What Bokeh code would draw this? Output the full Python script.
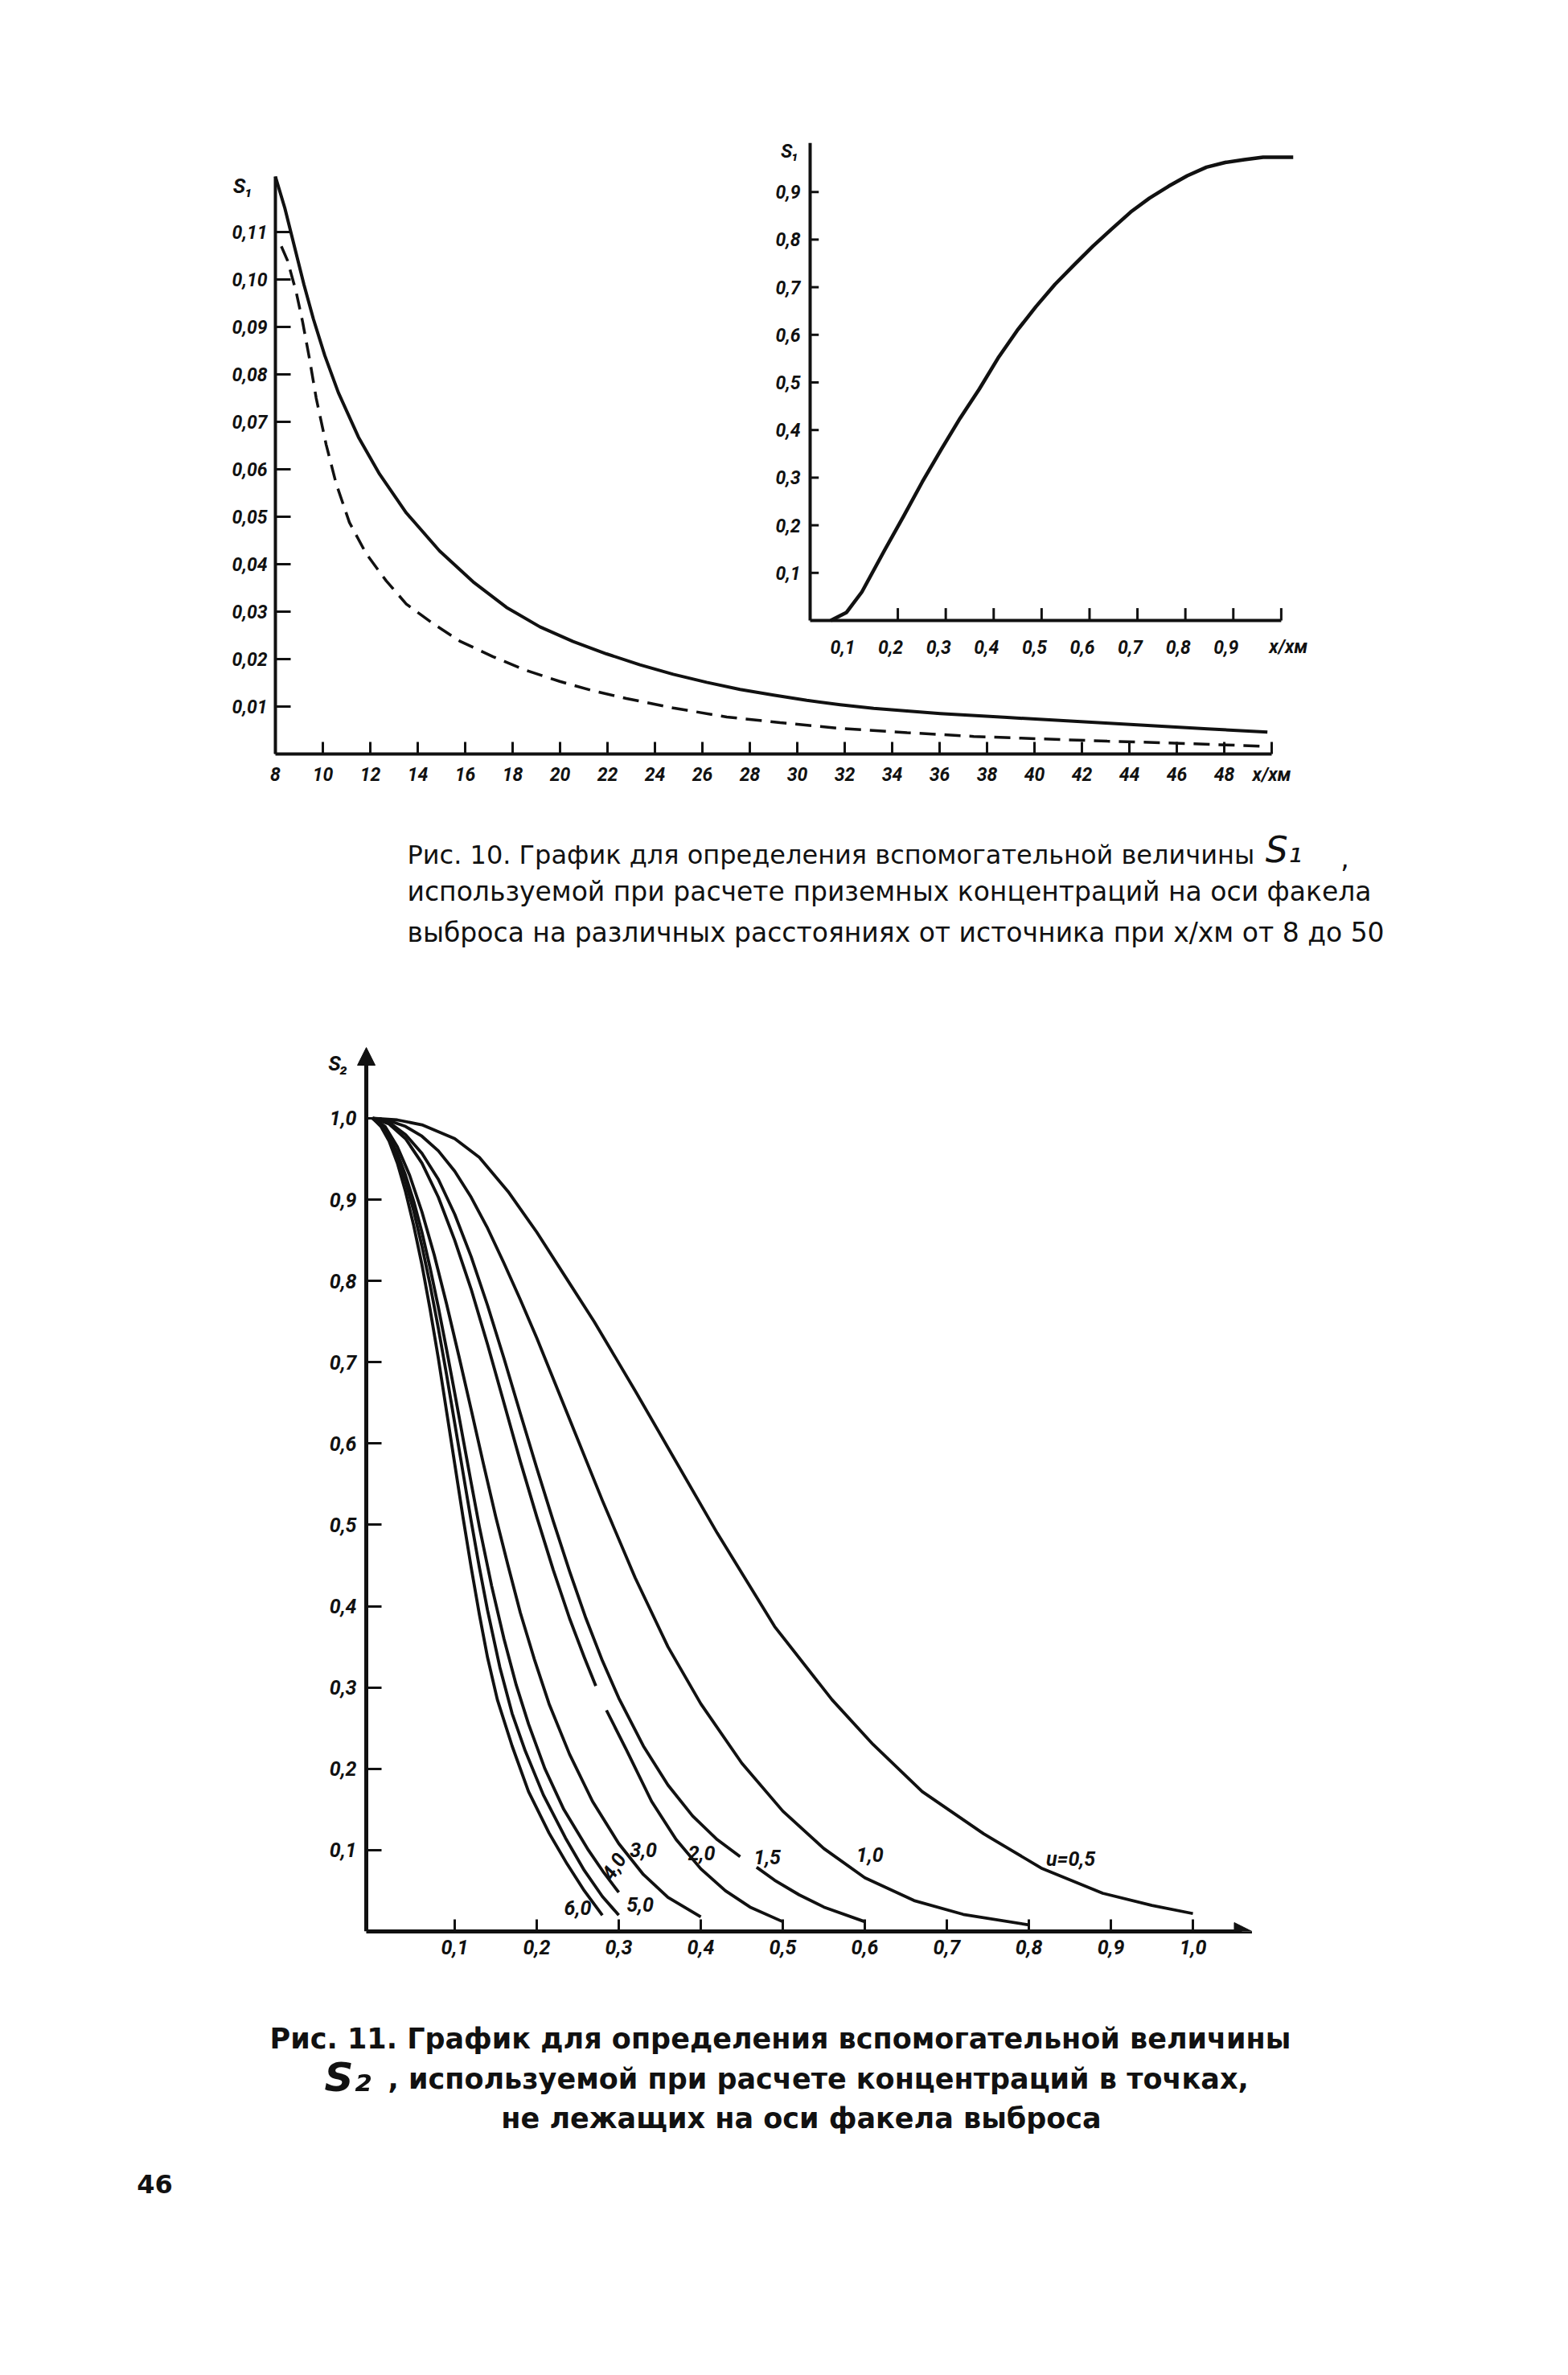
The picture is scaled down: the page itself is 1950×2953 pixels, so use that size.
import numpy as np
from bokeh.plotting import figure
from bokeh.models import Range1d, FixedTicker, CustomJSTickFormatter, Arrow, NormalHead
from bokeh.layouts import column
from bokeh.embed import file_html
from bokeh.resources import INLINE
from bokeh.core.properties import value

nan = np.nan

# ---------------- Fig. 10 : S1 for x/xm from 8 to 50 ----------------
s1_solid_x = [8.0, 8.4, 8.8, 9.2, 9.6, 10.08, 10.65, 11.5, 12.39, 13.52, 14.92, 16.33, 17.74, 19.15,
              20.55, 21.96, 23.37, 24.77, 26.18, 27.59, 29.0, 30.4, 31.81, 33.22, 36.03, 38.85,
              41.66, 44.48, 47.29, 49.82]
s1_solid_y = [0.1217, 0.1150, 0.1070, 0.0990, 0.0917, 0.0840, 0.0762, 0.0668, 0.0590, 0.0508,
              0.0428, 0.0363, 0.0309, 0.0268, 0.0237, 0.0211, 0.0188, 0.0168, 0.0151, 0.0136,
              0.0124, 0.0113, 0.0104, 0.0096, 0.0085, 0.0077, 0.0069, 0.0061, 0.0053, 0.0046]
s1_dash_x = [8.25, 8.51, 8.87, 9.15, 9.44, 9.72, 10.14, 10.56, 11.12, 11.83, 12.67, 13.52, 14.64,
             15.77, 17.18, 18.58, 19.99, 21.40, 22.80, 24.77, 27.03, 29.28, 31.81, 34.63, 37.44,
             40.26, 43.07, 45.89, 49.82]
s1_dash_y = [0.107, 0.1040, 0.0975, 0.0910, 0.0832, 0.0750, 0.0652, 0.0570, 0.0488, 0.0422,
             0.0365, 0.0316, 0.0275, 0.0238, 0.0205, 0.0176, 0.0153, 0.0133, 0.0117, 0.0097,
             0.0078, 0.0066, 0.0054, 0.0045, 0.0037, 0.0032, 0.0027, 0.0023, 0.0016]
x_ticks_10 = [8, 10, 12, 14, 16, 18, 20, 22, 24, 26, 28, 30, 32, 34, 36, 38, 40, 42, 44, 46, 48, 50]
y_ticks_10 = [0.01, 0.02, 0.03, 0.04, 0.05, 0.06, 0.07, 0.08, 0.09, 0.10, 0.11]

# inset: S1 for x/xm up to 1
s1_near_x = [0.06, 0.093, 0.125, 0.172, 0.212, 0.251, 0.291, 0.330, 0.370, 0.409, 0.449, 0.488,
             0.528, 0.567, 0.607, 0.646, 0.686, 0.725, 0.765, 0.804, 0.844, 0.883, 0.923, 0.962, 1.025]
s1_near_y = [0.0, 0.017, 0.06, 0.147, 0.219, 0.291, 0.36, 0.425, 0.486, 0.551, 0.609, 0.659,
             0.706, 0.746, 0.786, 0.822, 0.858, 0.887, 0.912, 0.934, 0.952, 0.962, 0.968, 0.973, 0.973]
inset_y_ticks = [0.1, 0.2, 0.3, 0.4, 0.5, 0.6, 0.7, 0.8, 0.9]
inset_x_ticks = [0.2, 0.3, 0.4, 0.5, 0.6, 0.7, 0.8, 0.9, 1.0]
inset_x_labels = [0.1, 0.2, 0.3, 0.4, 0.5, 0.6, 0.7, 0.8, 0.9]

# ---------------- Fig. 11 : S2 vs y/x for several u ----------------
u05_x = [0.0, 0.03, 0.06, 0.10, 0.13, 0.165, 0.20, 0.235, 0.27, 0.32, 0.36, 0.42, 0.49, 0.56, 0.61,
         0.67, 0.745, 0.815, 0.89, 0.95, 1.0]
u05_y = [1.0, 0.998, 0.992, 0.975, 0.952, 0.91, 0.86, 0.805, 0.75, 0.665, 0.595, 0.49, 0.375, 0.285,
         0.23, 0.172, 0.12, 0.078, 0.047, 0.032, 0.022]
u10_x = [0.0, 0.02, 0.04, 0.06, 0.08, 0.10, 0.12, 0.14, 0.16, 0.18, 0.20, 0.24, 0.28, 0.32, 0.36,
         0.40, 0.45, 0.50, 0.55, 0.60, 0.66, 0.72, 0.80]
u10_y = [1.0, 0.997, 0.99, 0.978, 0.96, 0.935, 0.903, 0.865, 0.822, 0.777, 0.73, 0.63, 0.53, 0.435,
         0.35, 0.28, 0.207, 0.148, 0.102, 0.066, 0.038, 0.021, 0.008]
u15_x = [0.0, 0.02, 0.04, 0.06, 0.08, 0.10, 0.12, 0.14, 0.16, 0.18, 0.20, 0.22, 0.24, 0.26, 0.28,
         0.30, 0.33, 0.36, 0.39, 0.42, 0.448, nan, 0.468, 0.49, 0.52, 0.55, 0.60]
u15_y = [1.0, 0.995, 0.98, 0.957, 0.925, 0.882, 0.83, 0.77, 0.705, 0.637, 0.57, 0.505, 0.443, 0.385,
         0.333, 0.287, 0.228, 0.18, 0.142, 0.113, 0.092, nan, 0.079, 0.063, 0.045, 0.03, 0.012]
u20_x = [0.0, 0.02, 0.04, 0.06, 0.08, 0.10, 0.12, 0.14, 0.16, 0.18, 0.20, 0.22, 0.24, 0.258, 0.272,
         nan, 0.285, 0.31, 0.34, 0.37, 0.40, 0.43, 0.46, 0.50]
u20_y = [1.0, 0.993, 0.975, 0.945, 0.903, 0.85, 0.79, 0.722, 0.65, 0.578, 0.51, 0.445, 0.385, 0.337,
         0.302, nan, 0.272, 0.222, 0.16, 0.113, 0.077, 0.05, 0.03, 0.012]
u30_x = [0.0, 0.015, 0.03, 0.045, 0.06, 0.075, 0.09, 0.105, 0.12, 0.135, 0.15, 0.165, 0.18, 0.197,
         0.215, 0.24, 0.268, 0.30, 0.33, 0.36, 0.40]
u30_y = [1.0, 0.99, 0.965, 0.93, 0.885, 0.832, 0.772, 0.708, 0.642, 0.575, 0.51, 0.45, 0.392, 0.335,
         0.28, 0.218, 0.16, 0.108, 0.07, 0.042, 0.018]
u40_x = [0.0, 0.01, 0.02, 0.03, 0.04, 0.05, 0.06, 0.07, 0.08, 0.09, 0.10, 0.11, 0.12, 0.13, 0.145,
         0.16, 0.175, 0.19, 0.21, 0.233, 0.263, 0.282, 0.30]
u40_y = [1.0, 0.992, 0.978, 0.957, 0.93, 0.898, 0.86, 0.816, 0.768, 0.716, 0.662, 0.607, 0.552, 0.498,
         0.425, 0.36, 0.303, 0.255, 0.2, 0.15, 0.1, 0.072, 0.048]
u50_x = [0.0, 0.01, 0.02, 0.03, 0.04, 0.05, 0.06, 0.07, 0.08, 0.09, 0.10, 0.11, 0.12, 0.13, 0.14,
         0.155, 0.17, 0.186, 0.208, 0.235, 0.258, 0.28, 0.30]
u50_y = [1.0, 0.991, 0.975, 0.952, 0.922, 0.886, 0.843, 0.795, 0.742, 0.685, 0.625, 0.565, 0.505, 0.448,
         0.395, 0.325, 0.268, 0.222, 0.168, 0.115, 0.075, 0.043, 0.02]
u60_x = [0.0, 0.01, 0.02, 0.03, 0.04, 0.05, 0.06, 0.07, 0.08, 0.09, 0.10, 0.11, 0.12, 0.13, 0.14,
         0.152, 0.17, 0.19, 0.215, 0.237, 0.258, 0.28]
u60_y = [1.0, 0.99, 0.972, 0.945, 0.91, 0.868, 0.82, 0.765, 0.705, 0.64, 0.575, 0.51, 0.448, 0.39,
         0.337, 0.285, 0.228, 0.172, 0.121, 0.083, 0.05, 0.02]
curve_labels = ["6,0", "5,0", "4,0", "3,0", "2,0", "1,5", "1,0", "u=0,5"]
ticks_11 = [0.1, 0.2, 0.3, 0.4, 0.5, 0.6, 0.7, 0.8, 0.9, 1.0]

INK = "#111111"
FONT = "DejaVu Sans"
TFONT = "Roboto"
W = 1934
# all figures share the same frame (page x 150 .. 1800) so column alignment changes nothing
BL, BR = 142, 142

def style_axis(ax, size, lw, tick_in):
    ax.axis_line_width = lw
    ax.axis_line_color = INK
    ax.major_tick_in = tick_in
    ax.major_tick_out = 0
    ax.major_tick_line_width = 3
    ax.major_tick_line_color = INK
    ax.minor_tick_line_color = None
    ax.major_label_text_font = TFONT
    ax.major_label_text_font_style = "bold italic"
    ax.major_label_text_font_size = size
    ax.major_label_text_color = INK

def txt(p, xs, ys, labels, size, align="center", style="bold italic", font=TFONT, **kw):
    p.text(x=xs, y=ys, text=labels, text_font=value(font), text_font_style=style,
           text_font_size=size, text_align=align, text_baseline="middle", text_color=INK, **kw)

# ======== Figure 10 (main + inset) ========
pA = figure(width=W, height=1002, output_backend="svg", toolbar_location=None,
            x_range=Range1d(1.2203, 57.1525), y_range=Range1d(0, 0.13136),
            min_border_left=BL, min_border_right=BR, min_border_top=162, min_border_bottom=65)
pA.grid.visible = False
pA.outline_line_color = None
xa = pA.xaxis[0]
xa.ticker = FixedTicker(ticks=x_ticks_10)
xa.formatter = CustomJSTickFormatter(code="return tick > 49 ? 'x/xм' : tick.toFixed(0);")
xa.bounds = (8, 50)
style_axis(xa, "23px", 4, 15)
xa.major_label_standoff = 12
ya = pA.yaxis[0]
ya.ticker = FixedTicker(ticks=y_ticks_10)
ya.formatter = CustomJSTickFormatter(code="return tick.toFixed(2).replace('.', ',');")
ya.bounds = (0, 0.1217)
ya.fixed_location = 8
style_axis(ya, "23px", 4, 19)
ya.major_label_standoff = 10

pA.line(s1_solid_x, s1_solid_y, line_width=4, line_color=INK, line_join="round")
pA.line(s1_dash_x, s1_dash_y, line_width=3.5, line_color=INK, line_dash="20 11")
txt(pA, [6.64], [0.1198], ["S₁"], "26px")

# inset drawn on its own ranges
pA.extra_x_ranges = {"ix": Range1d(-1.4343, 1.3341)}
pA.extra_y_ranges = {"iy": Range1d(-0.2804, 1.0287)}
IX0 = 0.017
IYTOP = 1.003
IXEND = 1.0
R = dict(x_range_name="ix", y_range_name="iy")
pA.segment(x0=[IX0, IX0], y0=[0, 0], x1=[IX0, IXEND], y1=[IYTOP, 0], line_width=4, line_color=INK, **R)
pA.segment(x0=[IX0] * len(inset_y_ticks), y0=inset_y_ticks,
           x1=[IX0 + 0.018] * len(inset_y_ticks), y1=inset_y_ticks, line_width=3, line_color=INK, **R)
pA.segment(x0=inset_x_ticks, y0=[0] * len(inset_x_ticks), x1=inset_x_ticks,
           y1=[0.026] * len(inset_x_ticks), line_width=3, line_color=INK, **R)
txt(pA, [IX0 - 0.02] * len(inset_y_ticks), inset_y_ticks,
    [("%.1f" % v).replace(".", ",") for v in inset_y_ticks], "23px", align="right", **R)
txt(pA, [v - 0.015 for v in inset_x_labels], [-0.055] * len(inset_x_labels),
    [("%.1f" % v).replace(".", ",") for v in inset_x_labels], "23px", **R)
txt(pA, [1.015], [-0.055], ["x/xм"], "23px", **R)
txt(pA, [-0.025], [0.985], ["S₁"], "24px", **R)
pA.line(s1_near_x, s1_near_y, line_width=4.5, line_color=INK, line_join="round", **R)

# ======== caption figures (coordinates = page pixels) ========
def text_fig(top, bottom):
    p = figure(width=W, height=bottom - top, output_backend="svg", toolbar_location=None,
               x_range=Range1d(150, 1800), y_range=Range1d(bottom, top),
               x_axis_location=None, y_axis_location=None,
               min_border_left=BL, min_border_right=BR, min_border_top=0, min_border_bottom=0)
    p.grid.visible = False
    p.outline_line_color = None
    return p

capA = text_fig(1010, 1290)
txt(capA, [514], [1070], ["Рис. 10. График для определения вспомогательной величины"],
    "32px", align="left", style="normal", font=FONT)
txt(capA, [514, 514], [1116, 1167],
    ["используемой при расчете приземных концентраций на оси факела",
     "выброса на различных расстояниях от источника при x/xм от 8 до 50"],
    "33px", align="left", style="normal", font=FONT)
txt(capA, [1604], [1064], ["S₁"], "44px", style="italic", font=FONT)
txt(capA, [1680], [1074], [","], "33px", style="normal", font=FONT)

# ======== Figure 11 ========
pB = figure(width=W, height=1190, output_backend="svg", toolbar_location=None,
            x_range=Range1d(-0.3147, 1.3029), y_range=Range1d(0, 1.0969),
            min_border_left=BL, min_border_right=BR, min_border_top=10, min_border_bottom=71)
pB.grid.visible = False
pB.outline_line_color = None
xb = pB.xaxis[0]
xb.ticker = FixedTicker(ticks=ticks_11)
xb.formatter = CustomJSTickFormatter(code="return tick.toFixed(1).replace('.', ',');")
xb.bounds = (-0.0078, 1.06)
style_axis(xb, "25px", 5, 15)
xb.major_label_standoff = 10
yb = pB.yaxis[0]
yb.ticker = FixedTicker(ticks=ticks_11)
yb.formatter = CustomJSTickFormatter(code="return tick.toFixed(1).replace('.', ',');")
yb.bounds = (0, 1.07)
yb.fixed_location = -0.0078
style_axis(yb, "25px", 5, 19)
yb.major_label_standoff = 12

pB.add_layout(Arrow(end=NormalHead(size=22, fill_color=INK, line_color=INK), line_color=INK, line_width=5,
                    x_start=-0.0078, y_start=1.0, x_end=-0.0078, y_end=1.087))
pB.add_layout(Arrow(end=NormalHead(size=22, fill_color=INK, line_color=INK), line_color=INK, line_width=5,
                    x_start=1.0, y_start=0.0, x_end=1.072, y_end=0.0))

for xs, ys in [(u05_x, u05_y), (u10_x, u10_y), (u15_x, u15_y), (u20_x, u20_y),
               (u30_x, u30_y), (u40_x, u40_y), (u50_x, u50_y), (u60_x, u60_y)]:
    pB.line(np.array(xs, dtype=float), np.array(ys, dtype=float), line_width=3.8, line_color=INK,
            line_join="round")

pB.text(x=[0.250, 0.326, 0.294, 0.330, 0.401, 0.481, 0.606, 0.851],
        y=[0.029, 0.033, 0.080, 0.100, 0.096, 0.091, 0.094, 0.089],
        text=curve_labels, angle=[0, 0, 1.0, 0, 0, 0, 0, 0],
        text_font=value(TFONT), text_font_style="bold italic", text_font_size="25px",
        text_align="center", text_baseline="middle", text_color=INK)
txt(pB, [-0.042], [1.068], ["S₂"], "26px")
txt(pB, [1.064], [-0.025], ["(y/x)"], "25px")

# ======== caption 11 + page number ========
capB = text_fig(2480, 2945)
txt(capB, [978, 1004], [2542, 2641],
    ["Рис. 11. График для определения вспомогательной величины",
     "не лежащих на оси факела выброса"],
    "35px", style="bold", font=FONT)
txt(capB, [440], [2590], ["S₂"], "50px", style="bold italic", font=FONT)
txt(capB, [490], [2592], [", используемой при расчете концентраций в точках,"],
    "35px", align="left", style="bold", font=FONT)
txt(capB, [200], [2723], ["46"], "32px", style="bold", font=FONT)

page = column(pA, capA, pB, capB)
open("out.html", "w").write(file_html(page, INLINE))
